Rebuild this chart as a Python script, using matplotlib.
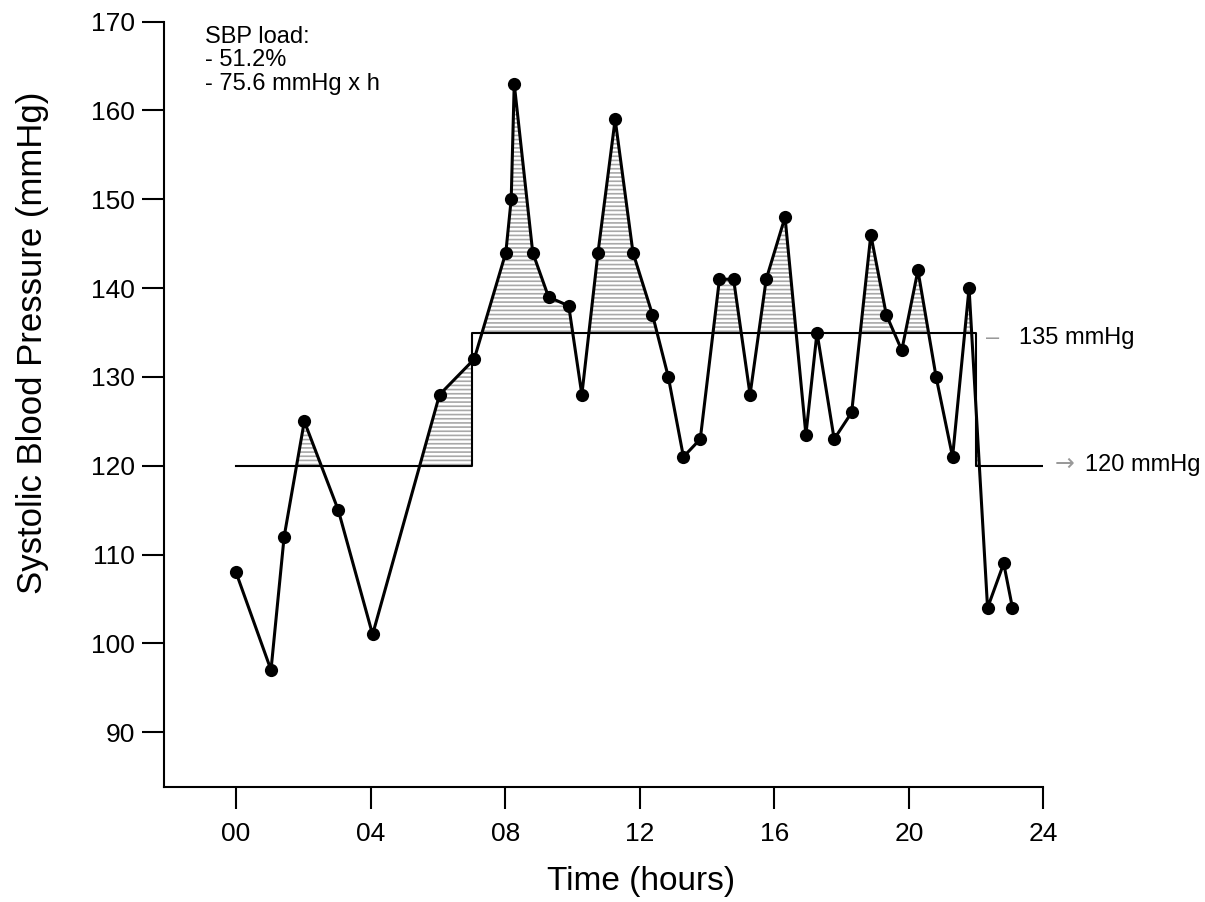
import numpy as np
import matplotlib
matplotlib.use("Agg")
import matplotlib.pyplot as plt
from matplotlib.patches import Rectangle

plt.rcParams['font.family'] = ['Liberation Sans', 'DejaVu Sans']
plt.rcParams['hatch.linewidth'] = 1.2

# === Data ===
hours = np.array([0.0, 1.04, 1.43, 2.03, 3.04, 4.06, 6.05, 7.08, 8.02, 8.18,
                  8.27, 8.82, 9.29, 9.89, 10.28, 10.76, 11.27, 11.80, 12.38, 12.85,
                  13.30, 13.80, 14.37, 14.79, 15.28, 15.76, 16.32, 16.94, 17.27, 17.78,
                  18.30, 18.87, 19.33, 19.79, 20.27, 20.81, 21.30, 21.79, 22.34, 22.82,
                  23.08])
sbp = np.array([108, 97, 112, 125, 115, 101, 128, 132, 144, 150,
                163, 144, 139, 138, 128, 144, 159, 144, 137, 130,
                121, 123, 141, 141, 128, 141, 148, 123.5, 135, 123,
                126, 146, 137, 133, 142, 130, 121, 140, 104, 109,
                104])

# threshold: 120 night / 135 day / 120 night
thr_x = [0, 7, 22, 24]
thr_y = [120, 135, 120, 120]

x_ticks = [0, 4, 8, 12, 16, 20, 24]
x_ticklabels = ['00', '04', '08', '12', '16', '20', '24']
y_ticks = [90, 100, 110, 120, 130, 140, 150, 160, 170]

load_lines = ['SBP load:', '- 51.2%', '- 75.6 mmHg x h']

# === Figure ===
fig = plt.figure(figsize=(12.05, 9.02), dpi=100)
ax = fig.add_axes([0.1364, 0.1272, 0.7295, 0.8488])
ax.set_xlim(-2.13, 24)
ax.set_ylim(83.8, 170)

for side in ['top', 'right']:
    ax.spines[side].set_visible(False)
for side in ['left', 'bottom']:
    ax.spines[side].set_linewidth(1.5)

ax.set_xticks(x_ticks)
ax.set_xticklabels(x_ticklabels)
ax.set_yticks(y_ticks)
ax.tick_params(axis='both', length=16, width=1.5, labelsize=19)
ax.tick_params(axis='x', pad=9)
ax.tick_params(axis='y', pad=5)

ax.set_xlabel('Time (hours)', fontsize=24)
ax.set_ylabel('Systolic Blood Pressure (mmHg)', fontsize=25)
ax.xaxis.set_label_coords(0.542, -0.103)
ax.yaxis.set_label_coords(-0.131, 0.581)


# hatched load area above the threshold, clipped to the day/night span
def hatch_above(level, x0, x1):
    coll = ax.fill_between(hours, sbp, level, where=sbp > level, interpolate=True,
                           facecolor='none', edgecolor='#a8a8a8', hatch='----',
                           linewidth=0, zorder=2)
    clip = Rectangle((x0, level), x1 - x0, 100, transform=ax.transData)
    coll.set_clip_path(clip)


hatch_above(120, -1, 7)
hatch_above(135, 7, 22)
hatch_above(120, 22, 24)

ax.step(thr_x, thr_y, where='post', color='black', lw=1.5, zorder=3)
ax.plot(hours, sbp, color='black', lw=2.2, marker='o', ms=9.5, mew=0, zorder=4)

# annotations
for i, line in enumerate(load_lines):
    ax.text(-0.92, 167.6 - i * 2.62, line, fontsize=17, va='baseline', ha='left')

ax.text(22.48, 133.7, '\u2013', fontsize=17, color='#999999', va='baseline', ha='center')
ax.text(23.28, 133.7, '135 mmHg', fontsize=17, va='baseline', ha='left', clip_on=False)
ax.text(24.62, 119.4, '\u2192', fontsize=17, color='#999999', va='baseline', ha='center',
        family='DejaVu Sans')
ax.text(25.23, 119.4, '120 mmHg', fontsize=17, va='baseline', ha='left', clip_on=False)

fig.savefig('out.png', dpi=100)
